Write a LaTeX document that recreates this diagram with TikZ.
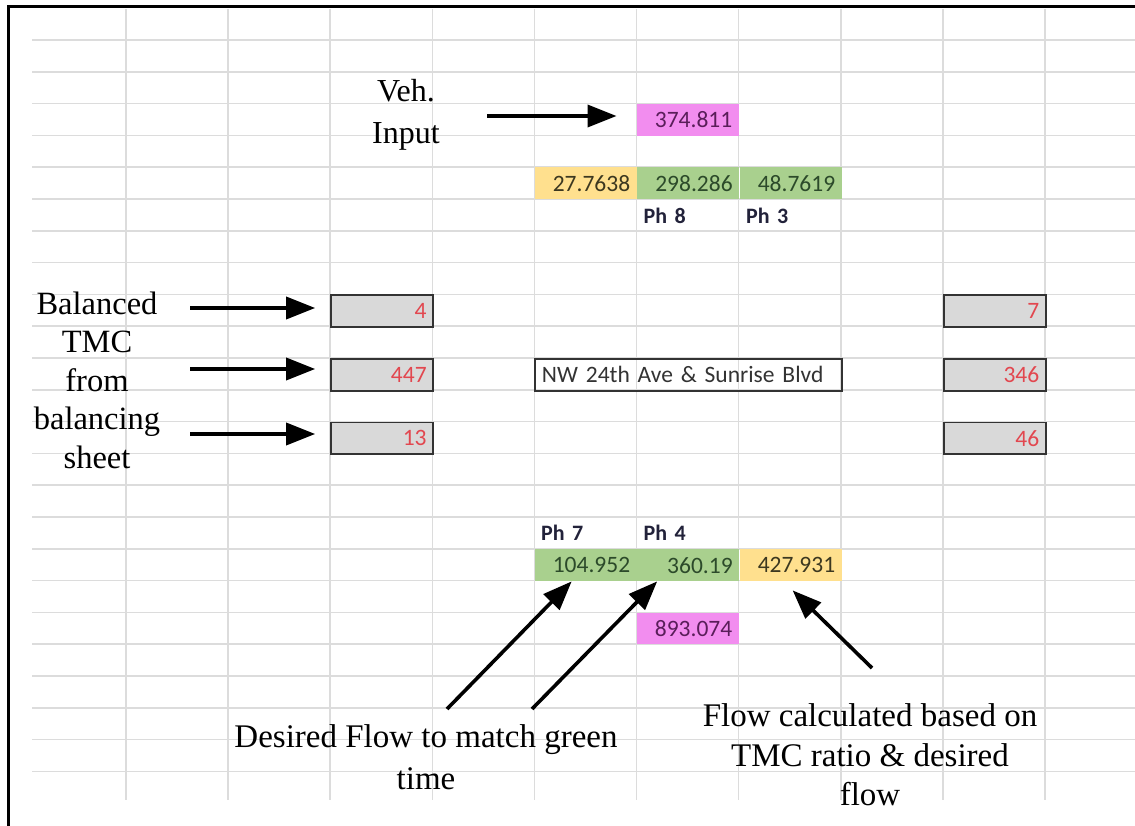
\documentclass[tikz,border=0pt]{standalone}
\usepackage{fontspec}
\newfontfamily\cellfont{Carlito}
\newfontfamily\notefont{Liberation Serif}
\usepackage{tikz}
\usetikzlibrary{arrows.meta,positioning}

\definecolor{gridgray}{HTML}{DCDCDC}
\definecolor{pinkcell}{HTML}{F28DEF}
\definecolor{pinktext}{HTML}{5A1E5A}
\definecolor{greencell}{HTML}{A9D08E}
\definecolor{greentext}{HTML}{2C4A2A}
\definecolor{yellowcell}{HTML}{FFE08E}
\definecolor{yellowtext}{HTML}{3C3820}
\definecolor{tmcgray}{HTML}{D9D9D9}
\definecolor{tmcred}{HTML}{E2474F}
\definecolor{phtext}{HTML}{22223A}

\begin{document}
\begin{tikzpicture}[
  x=1pt, y=-1pt,
  font=\cellfont\fontsize{23.5pt}{26pt}\selectfont,
  gridline/.style={draw=gridgray, line width=1.6pt},
  cell/.style={anchor=north west, minimum width=102.1pt, minimum height=31.8pt, text width=89pt, inner xsep=6.5pt, inner ysep=0pt, align=right},
  phase/.style={cell, align=left, text=phtext, font=\cellfont\bfseries\fontsize{22pt}{26pt}\selectfont},
  tmc/.style={cell, draw=black!80, line width=1.8pt, fill=tmcgray, text=tmcred},
  note/.style={align=center, inner sep=0pt, font=\notefont\fontsize{32.5pt}{39pt}\selectfont},
  notearr/.style={-{Triangle[length=29pt,width=22pt]}, line width=3.6pt}
]
  \useasboundingbox (0,0) rectangle (1135,826);

  % sheet grid
  \foreach \k in {0,...,23}
    \draw[gridline] (32,{40+31.8*\k}) -- (1135,{40+31.8*\k});
  \foreach \k in {0,...,9}
    \draw[gridline] ({126+102.1*\k},9) -- ({126+102.1*\k},800);
  \draw[line width=3pt] (8,826) -- (8,7) -- (1135,7);

  % north approach
  \node[cell, fill=pinkcell, text=pinktext] (vin) at (636.5,103.6) {374.811};
  \node[cell, fill=yellowcell, text=yellowtext] (nl) at (534.4,167.2) {27.7638};
  \node[cell, fill=greencell, text=greentext, right=0pt of nl] (nt) {298.286};
  \node[cell, fill=greencell, text=greentext, right=0pt of nt] (nr) {48.7619};
  \node[phase, below=0pt of nt] (ph8) {Ph 8};
  \node[phase, below=0pt of nr] (ph3) {Ph 3};

  % balanced TMC, west and east
  \node[tmc] (w1) at (330.2,294.4) {4};
  \node[tmc] (w2) at (330.2,358) {447};
  \node[tmc] (w3) at (330.2,421.6) {13};
  \node[tmc] (e1) at (942.8,294.4) {7};
  \node[tmc] (e2) at (942.8,358) {346};
  \node[tmc] (e3) at (942.8,421.6) {46};
  \node[cell, draw=black!80, line width=1.8pt, minimum width=306.3pt, text width=293pt, align=left, text=black!80] (isec) at (534.4,358) {NW 24th Ave \& Sunrise Blvd};

  % south approach
  \node[phase] (ph7) at (534.4,517) {Ph 7};
  \node[phase, right=0pt of ph7] (ph4) {Ph 4};
  \node[cell, fill=greencell, text=greentext, below=0pt of ph7] (st) {104.952};
  \node[cell, fill=greencell, text=greentext, right=0pt of st] (sl) {360.19};
  \node[cell, fill=yellowcell, text=yellowtext, right=0pt of sl] (sr) {427.931};
  \node[cell, fill=pinkcell, text=pinktext] (vout) at (636.5,612.4) {893.074};

  % notes
  \node[note, font=\notefont\fontsize{32pt}{42pt}\selectfont] (vehtxt) at (406,115) {Veh.\\Input};
  \node[note, font=\notefont\fontsize{32.5pt}{38.5pt}\selectfont] (tmctxt) at (97,380) {Balanced\\TMC\\from\\balancing\\sheet};
  \node[note, font=\notefont\fontsize{33pt}{42pt}\selectfont] (destxt) at (426,757) {Desired Flow to match green\\time};
  \node[note, font=\notefont\fontsize{33pt}{39.5pt}\selectfont] (calctxt) at (870,755) {Flow calculated based on\\TMC ratio \& desired\\flow};

  \coordinate (vtail) at (487,116);
  \coordinate (t1) at (190,308);
  \coordinate (t2) at (190,369);
  \coordinate (t3) at (190,434);
  \coordinate (d1) at (447,709);
  \coordinate (d2) at (532,709);
  \coordinate (c1) at (872,668);

  \draw[notearr, shorten >=20pt] (vtail) -- (vtail -| vin.west);
  \draw[notearr, shorten >=15pt] (t1) -- (t1 -| w1.west);
  \draw[notearr, shorten >=15pt] (t2) -- (t2 -| w2.west);
  \draw[notearr, shorten >=15pt] (t3) -- (t3 -| w3.west);
  \draw[notearr] (d1) -- ([xshift=-14pt]st.south);
  \draw[notearr] (d2) -- ([xshift=-31pt]sl.south);
  \draw[notearr] (c1) -- ([xshift=2pt,yshift=-9pt]sr.south);
\end{tikzpicture}
\end{document}
